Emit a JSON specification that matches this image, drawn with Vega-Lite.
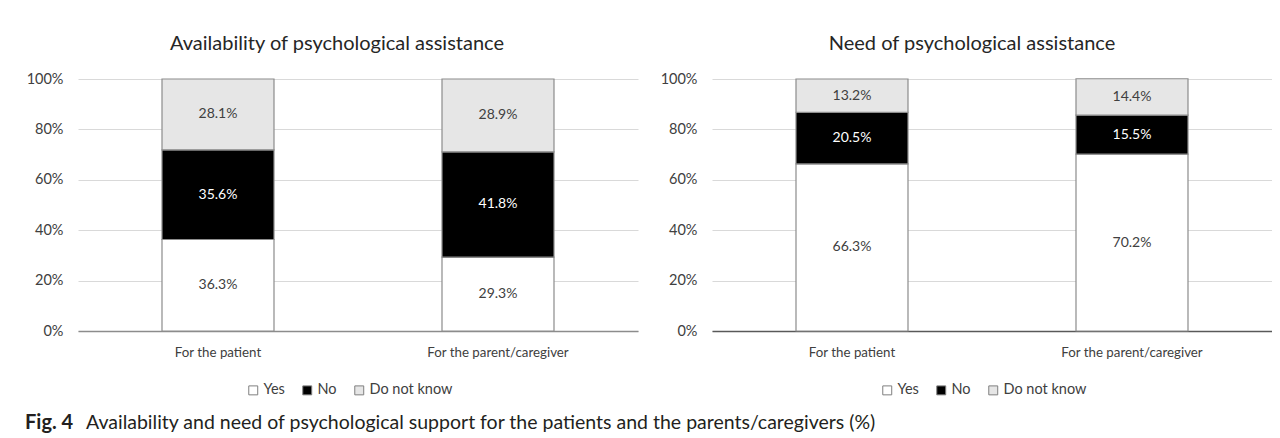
{
  "$schema": "https://vega.github.io/schema/vega-lite/v6.json",
  "background": "white",
  "padding": {"left": 25, "top": 34, "right": 0, "bottom": 0},
  "bounds": "flush",
  "spacing": 74,
  "resolve": {"legend": {"color": "independent"}},
  "config": {
    "font": "Lato",
    "view": {"stroke": null},
    "title": {"fontSize": 20, "fontWeight": "normal", "color": "#262626", "offset": 17, "anchor": "middle"},
    "axis": {"labelColor": "#404040", "labelFont": "Lato", "title": null},
    "legend": {
      "symbolType": "square",
      "symbolSize": 80,
      "symbolStrokeColor": "#7f7f7f",
      "symbolStrokeWidth": 1,
      "labelFontSize": 14.5,
      "labelColor": "#404040",
      "labelOffset": 3,
      "columnPadding": 15
    }
  },
  "datasets": {
    "availability": [
      {"target": "For the patient", "answer": "Yes", "share": 0.363},
      {"target": "For the patient", "answer": "No", "share": 0.356},
      {"target": "For the patient", "answer": "Do not know", "share": 0.281},
      {"target": "For the parent/caregiver", "answer": "Yes", "share": 0.293},
      {"target": "For the parent/caregiver", "answer": "No", "share": 0.418},
      {"target": "For the parent/caregiver", "answer": "Do not know", "share": 0.289}
    ],
    "need": [
      {"target": "For the patient", "answer": "Yes", "share": 0.663},
      {"target": "For the patient", "answer": "No", "share": 0.205},
      {"target": "For the patient", "answer": "Do not know", "share": 0.132},
      {"target": "For the parent/caregiver", "answer": "Yes", "share": 0.702},
      {"target": "For the parent/caregiver", "answer": "No", "share": 0.155},
      {"target": "For the parent/caregiver", "answer": "Do not know", "share": 0.144}
    ]
  },
  "hconcat": [
    {
      "title": {"text": "Availability of psychological assistance", "dx": -21},
      "width": 560,
      "height": 252,
      "layer": [
        {
          "data": {"name": "availability"},
          "transform": [
            {"calculate": "indexof(['Yes', 'No', 'Do not know'], datum.answer)", "as": "rank"},
            {"stack": "share", "groupby": ["target"], "sort": [{"field": "rank", "order": "ascending"}], "as": ["y0", "y1"]},
            {"calculate": "(datum.y0 + datum.y1) / 2", "as": "ymid"}
          ],
          "encoding": {
            "x": {
              "field": "target", "type": "nominal",
              "sort": ["For the patient", "For the parent/caregiver"],
              "scale": {"paddingInner": 0.6, "paddingOuter": 0.3},
              "axis": {"labelAngle": 0, "ticks": false, "domainColor": "#8c8c8c", "domainWidth": 1.5, "labelPadding": 14, "labelFontSize": 13.3, "grid": false}
            }
          },
          "layer": [
            {
              "mark": {"type": "bar", "stroke": "#8c8c8c", "strokeWidth": 1.2},
              "encoding": {
                "y": {
                  "field": "y0", "type": "quantitative",
                  "scale": {"domain": [0, 1]},
                  "axis": {"values": [0, 0.2, 0.4, 0.6, 0.8, 1], "format": ".0%", "grid": true, "gridColor": "#d9d9d9", "domain": false, "ticks": false, "labelPadding": 15, "labelFontSize": 14.5}
                },
                "y2": {"field": "y1"},
                "color": {
                  "field": "answer", "type": "nominal",
                  "scale": {"domain": ["Yes", "No", "Do not know"], "range": ["#ffffff", "#000000", "#e6e6e6"]},
                  "legend": {"title": null, "orient": "none", "direction": "horizontal", "legendX": 168, "legendY": 304}
                }
              }
            },
            {
              "mark": {"type": "text", "fontSize": 14, "baseline": "middle"},
              "encoding": {
                "y": {"field": "ymid", "type": "quantitative"},
                "text": {"field": "share", "type": "quantitative", "format": ".1%"},
                "color": {"condition": {"test": "datum.answer === 'No'", "value": "#ffffff"}, "value": "#404040"}
              }
            }
          ]
        },
        {
          "data": {"values": [{"label": "Fig. 4"}]},
          "mark": {"type": "text", "text": "Fig. 4", "fontWeight": "bold", "fontSize": 20, "color": "#231f20", "align": "left", "baseline": "middle", "x": -53, "y": 344}
        },
        {
          "data": {"values": [{"label": "caption"}]},
          "mark": {"type": "text", "text": "Availability and need of psychological support for the patients and the parents/caregivers (%)", "fontSize": 19.5, "color": "#231f20", "align": "left", "baseline": "middle", "x": 8, "y": 344}
        }
      ]
    },
    {
      "title": {"text": "Need of psychological assistance", "dx": -20},
      "width": 560,
      "height": 252,
      "data": {"name": "need"},
      "transform": [
        {"calculate": "indexof(['Yes', 'No', 'Do not know'], datum.answer)", "as": "rank"},
        {"stack": "share", "groupby": ["target"], "sort": [{"field": "rank", "order": "ascending"}], "as": ["y0", "y1"]},
        {"calculate": "(datum.y0 + datum.y1) / 2", "as": "ymid"}
      ],
      "encoding": {
        "x": {
          "field": "target", "type": "nominal",
          "sort": ["For the patient", "For the parent/caregiver"],
          "scale": {"paddingInner": 0.6, "paddingOuter": 0.3},
          "axis": {"labelAngle": 0, "ticks": false, "domainColor": "#595959", "domainWidth": 1.5, "labelPadding": 14, "labelFontSize": 13.3, "grid": false}
        }
      },
      "layer": [
        {
          "mark": {"type": "bar", "stroke": "#8c8c8c", "strokeWidth": 1.2},
          "encoding": {
            "y": {
              "field": "y0", "type": "quantitative",
              "scale": {"domain": [0, 1]},
              "axis": {"values": [0, 0.2, 0.4, 0.6, 0.8, 1], "format": ".0%", "grid": true, "gridColor": "#d9d9d9", "domain": false, "ticks": false, "labelPadding": 15, "labelFontSize": 14.5}
            },
            "y2": {"field": "y1"},
            "color": {
              "field": "answer", "type": "nominal",
              "scale": {"domain": ["Yes", "No", "Do not know"], "range": ["#ffffff", "#000000", "#e6e6e6"]},
              "legend": {"title": null, "orient": "none", "direction": "horizontal", "legendX": 168, "legendY": 304}
            }
          }
        },
        {
          "mark": {"type": "text", "fontSize": 14, "baseline": "middle"},
          "encoding": {
            "y": {"field": "ymid", "type": "quantitative"},
            "text": {"field": "share", "type": "quantitative", "format": ".1%"},
            "color": {"condition": {"test": "datum.answer === 'No'", "value": "#ffffff"}, "value": "#404040"}
          }
        }
      ]
    }
  ]
}
